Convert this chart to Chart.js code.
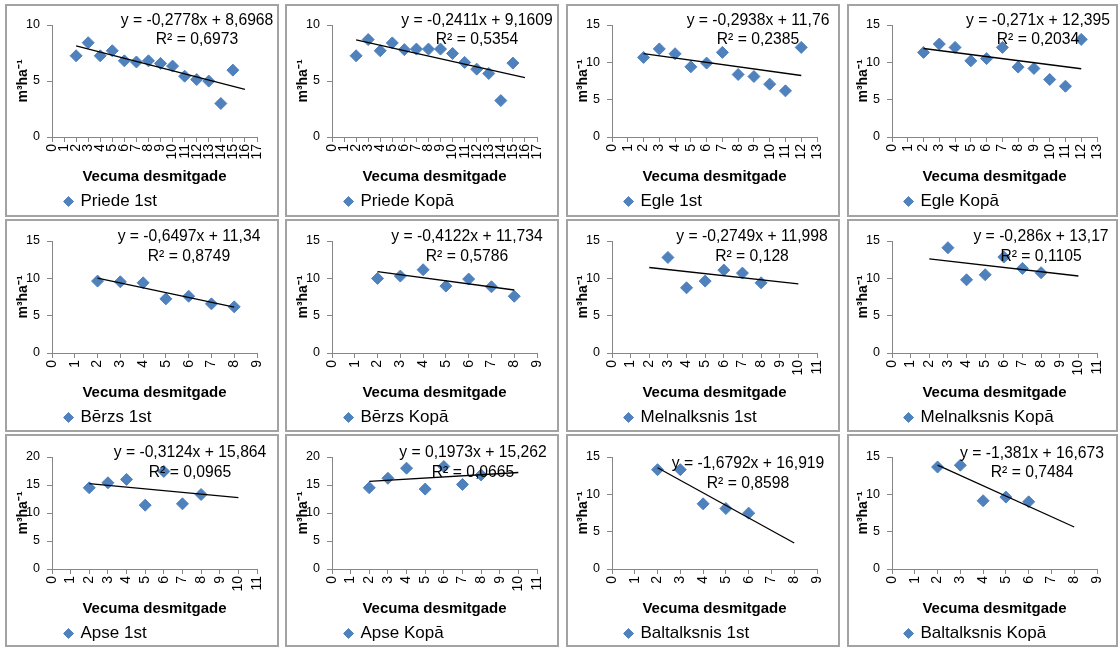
<!DOCTYPE html>
<html>
<head>
<meta charset="utf-8">
<script src="https://cdn.jsdelivr.net/npm/chart.js@4.4.1/dist/chart.umd.min.js"></script>
<style>
  body { margin: 0; background: #fff; width: 1119px; height: 648px; position: relative; overflow: hidden; }
  .frame { position: absolute; border: 2px solid #a3a3a3; box-sizing: border-box; }
  canvas { position: absolute; }
</style>
</head>
<body>
<script>
// panels, row by row
const names = ['Priede 1st', 'Priede Kopā', 'Egle 1st', 'Egle Kopā',
  'Bērzs 1st', 'Bērzs Kopā', 'Melnalksnis 1st', 'Melnalksnis Kopā',
  'Apse 1st', 'Apse Kopā', 'Baltalksnis 1st', 'Baltalksnis Kopā'];

// age decade (x) and m3/ha (y) per panel
const xValues = [
  [2, 3, 4, 5, 6, 7, 8, 9, 10, 11, 12, 13, 14, 15],
  [2, 3, 4, 5, 6, 7, 8, 9, 10, 11, 12, 13, 14, 15],
  [2, 3, 4, 5, 6, 7, 8, 9, 10, 11, 12],
  [2, 3, 4, 5, 6, 7, 8, 9, 10, 11, 12],
  [2, 3, 4, 5, 6, 7, 8],
  [2, 3, 4, 5, 6, 7, 8],
  [3, 4, 5, 6, 7, 8],
  [3, 4, 5, 6, 7, 8],
  [2, 3, 4, 5, 6, 7, 8],
  [2, 3, 4, 5, 6, 7, 8],
  [2, 3, 4, 5, 6],
  [2, 3, 4, 5, 6]
];
const yValues = [
  [7.25, 8.42, 7.25, 7.7, 6.8, 6.7, 6.8, 6.57, 6.33, 5.43, 5.13, 4.99, 2.99, 5.97],
  [7.25, 8.7, 7.7, 8.4, 7.8, 7.85, 7.85, 7.85, 7.46, 6.66, 6.06, 5.67, 3.25, 6.6],
  [10.66, 11.8, 11.15, 9.4, 9.9, 11.33, 8.37, 8.1, 7.08, 6.18, 12.0],
  [11.33, 12.45, 12.0, 10.2, 10.5, 12.0, 9.36, 9.18, 7.7, 6.8, 13.07],
  [9.63, 9.54, 9.4, 7.25, 7.6, 6.58, 6.18],
  [9.99, 10.3, 11.15, 8.96, 9.9, 8.87, 7.6],
  [12.8, 8.73, 9.63, 11.1, 10.7, 9.4],
  [14.1, 9.8, 10.48, 12.85, 11.33, 10.75],
  [14.5, 15.4, 16.0, 11.4, 17.43, 11.64, 13.3],
  [14.5, 16.2, 18.0, 14.27, 18.3, 15.1, 16.8],
  [13.3, 13.3, 8.73, 8.1, 7.48],
  [13.66, 13.9, 9.14, 9.63, 9.0]
];

// linear trendlines as printed on the chart
const slopes = [-0.2778, -0.2411, -0.2938, -0.271, -0.6497, -0.4122, -0.2749, -0.286, -0.3124, 0.1973, -1.6792, -1.381];
const intercepts = [8.6968, 9.1609, 11.76, 12.395, 11.34, 11.734, 11.998, 13.17, 15.864, 15.262, 16.919, 16.673];
const r2 = [0.6973, 0.5354, 0.2385, 0.2034, 0.8749, 0.5786, 0.128, 0.1105, 0.0965, 0.0665, 0.8598, 0.7484];
const trendFrom = [2, 2, 2, 2, 2, 2, 2, 2, 2, 2, 2, 2];
const trendTo = [16, 16, 12, 12, 8, 8, 10, 10, 10, 10, 8, 8];

// axis ranges
const xMax = [17, 17, 13, 13, 9, 9, 11, 11, 11, 11, 9, 9];
const yMax = [10, 10, 15, 15, 15, 15, 15, 15, 20, 20, 15, 15];

// layout (not data)
const cellX = [0, 280, 560, 840];
const cellY = [0, 216, 432];
const frameX = [[5, 274], [285, 274], [566, 274], [847, 271]];
const frameY = [4, 219, 434];
const eqPos = [[197, 21, 40], [197, 21, 40], [198, 21, 40], [198, 21, 40],
  [189, 21, 41], [187, 21, 41], [192, 21, 41], [201, 21, 41],
  [190, 21, 41], [193, 21, 41], [188, 32, 52], [192, 22, 41]];

const FONT = "'Liberation Sans', Arial, sans-serif";
const fmt = v => String(v).replace('.', ',');

names.forEach((name, i) => {
  const col = i % 4, row = Math.floor(i / 4);

  const frame = document.createElement('div');
  frame.className = 'frame';
  frame.style.left = frameX[col][0] + 'px';
  frame.style.top = frameY[row] + 'px';
  frame.style.width = frameX[col][1] + 'px';
  frame.style.height = '213px';
  document.body.appendChild(frame);

  const cv = document.createElement('canvas');
  cv.width = 280; cv.height = 220;
  cv.style.left = cellX[col] + 'px';
  cv.style.top = cellY[row] + 'px';
  cv.style.width = '280px'; cv.style.height = '220px';
  document.body.appendChild(cv);

  const eqLabel = {
    id: 'eqLabel',
    afterLayout(chart) {
      // legend sits left of centre in the original
      chart.legend.left = 61;
    },
    afterDraw(chart) {
      const ctx = chart.ctx;
      ctx.save();
      ctx.font = '15.7px ' + FONT;
      ctx.fillStyle = '#000';
      ctx.textAlign = 'center';
      ctx.textBaseline = 'middle';
      const sign = intercepts[i] < 0 ? ' - ' : ' + ';
      ctx.fillText('y = ' + fmt(slopes[i]) + 'x' + sign + fmt(Math.abs(intercepts[i])), eqPos[i][0], eqPos[i][1]);
      ctx.fillText('R² = ' + fmt(r2[i]), eqPos[i][0], eqPos[i][2]);
      ctx.restore();
    }
  };

  new Chart(cv.getContext('2d'), {
    type: 'scatter',
    data: {
      datasets: [{
        label: name,
        data: xValues[i].map((x, k) => ({ x: x, y: yValues[i][k] })),
        pointStyle: 'rectRot',
        pointRadius: 6,
        backgroundColor: '#4F81BD',
        borderColor: '#4F81BD',
        borderWidth: 1,
        order: 1
      }, {
        label: 'trend',
        data: [trendFrom[i], trendTo[i]].map(x => ({ x: x, y: slopes[i] * x + intercepts[i] })),
        showLine: true,
        pointRadius: 0,
        borderColor: '#000',
        borderWidth: 1.3,
        order: 0
      }]
    },
    options: {
      responsive: false,
      animation: false,
      layout: { padding: { left: 0, right: 23, top: 25, bottom: 0 } },
      scales: {
        x: {
          type: 'linear',
          min: 0,
          max: xMax[i],
          afterFit: s => { s.height = 52; },
          grid: { drawOnChartArea: false, drawTicks: true, tickLength: 5, color: '#868686' },
          border: { color: '#868686' },
          ticks: {
            stepSize: 1, autoSkip: false, minRotation: 90, maxRotation: 90,
            padding: 2, color: '#000', font: { size: 14, family: FONT }
          },
          title: {
            display: true, text: 'Vecuma desmitgade', color: '#000',
            font: { size: 15, weight: 'bold', family: FONT },
            padding: { top: 0, bottom: 3 }
          }
        },
        y: {
          min: 0,
          max: yMax[i],
          afterFit: s => { s.width = 52; },
          grid: { drawOnChartArea: false, drawTicks: true, tickLength: 5, color: '#868686' },
          border: { color: '#868686' },
          ticks: { stepSize: 5, padding: 7, color: '#000', font: { size: 12.5, family: FONT } },
          title: {
            display: true, text: 'm³ha⁻¹', color: '#000',
            font: { size: 14, weight: 'bold', family: FONT },
            padding: { top: 15, bottom: 0 }
          }
        }
      },
      plugins: {
        legend: {
          position: 'bottom',
          align: 'start',
          labels: {
            usePointStyle: true, boxWidth: 7, boxHeight: 7, padding: 4,
            color: '#000', font: { size: 17, family: FONT },
            filter: item => item.datasetIndex === 0
          }
        },
        tooltip: { enabled: false }
      }
    },
    plugins: [eqLabel]
  });
});
</script>
</body>
</html>
